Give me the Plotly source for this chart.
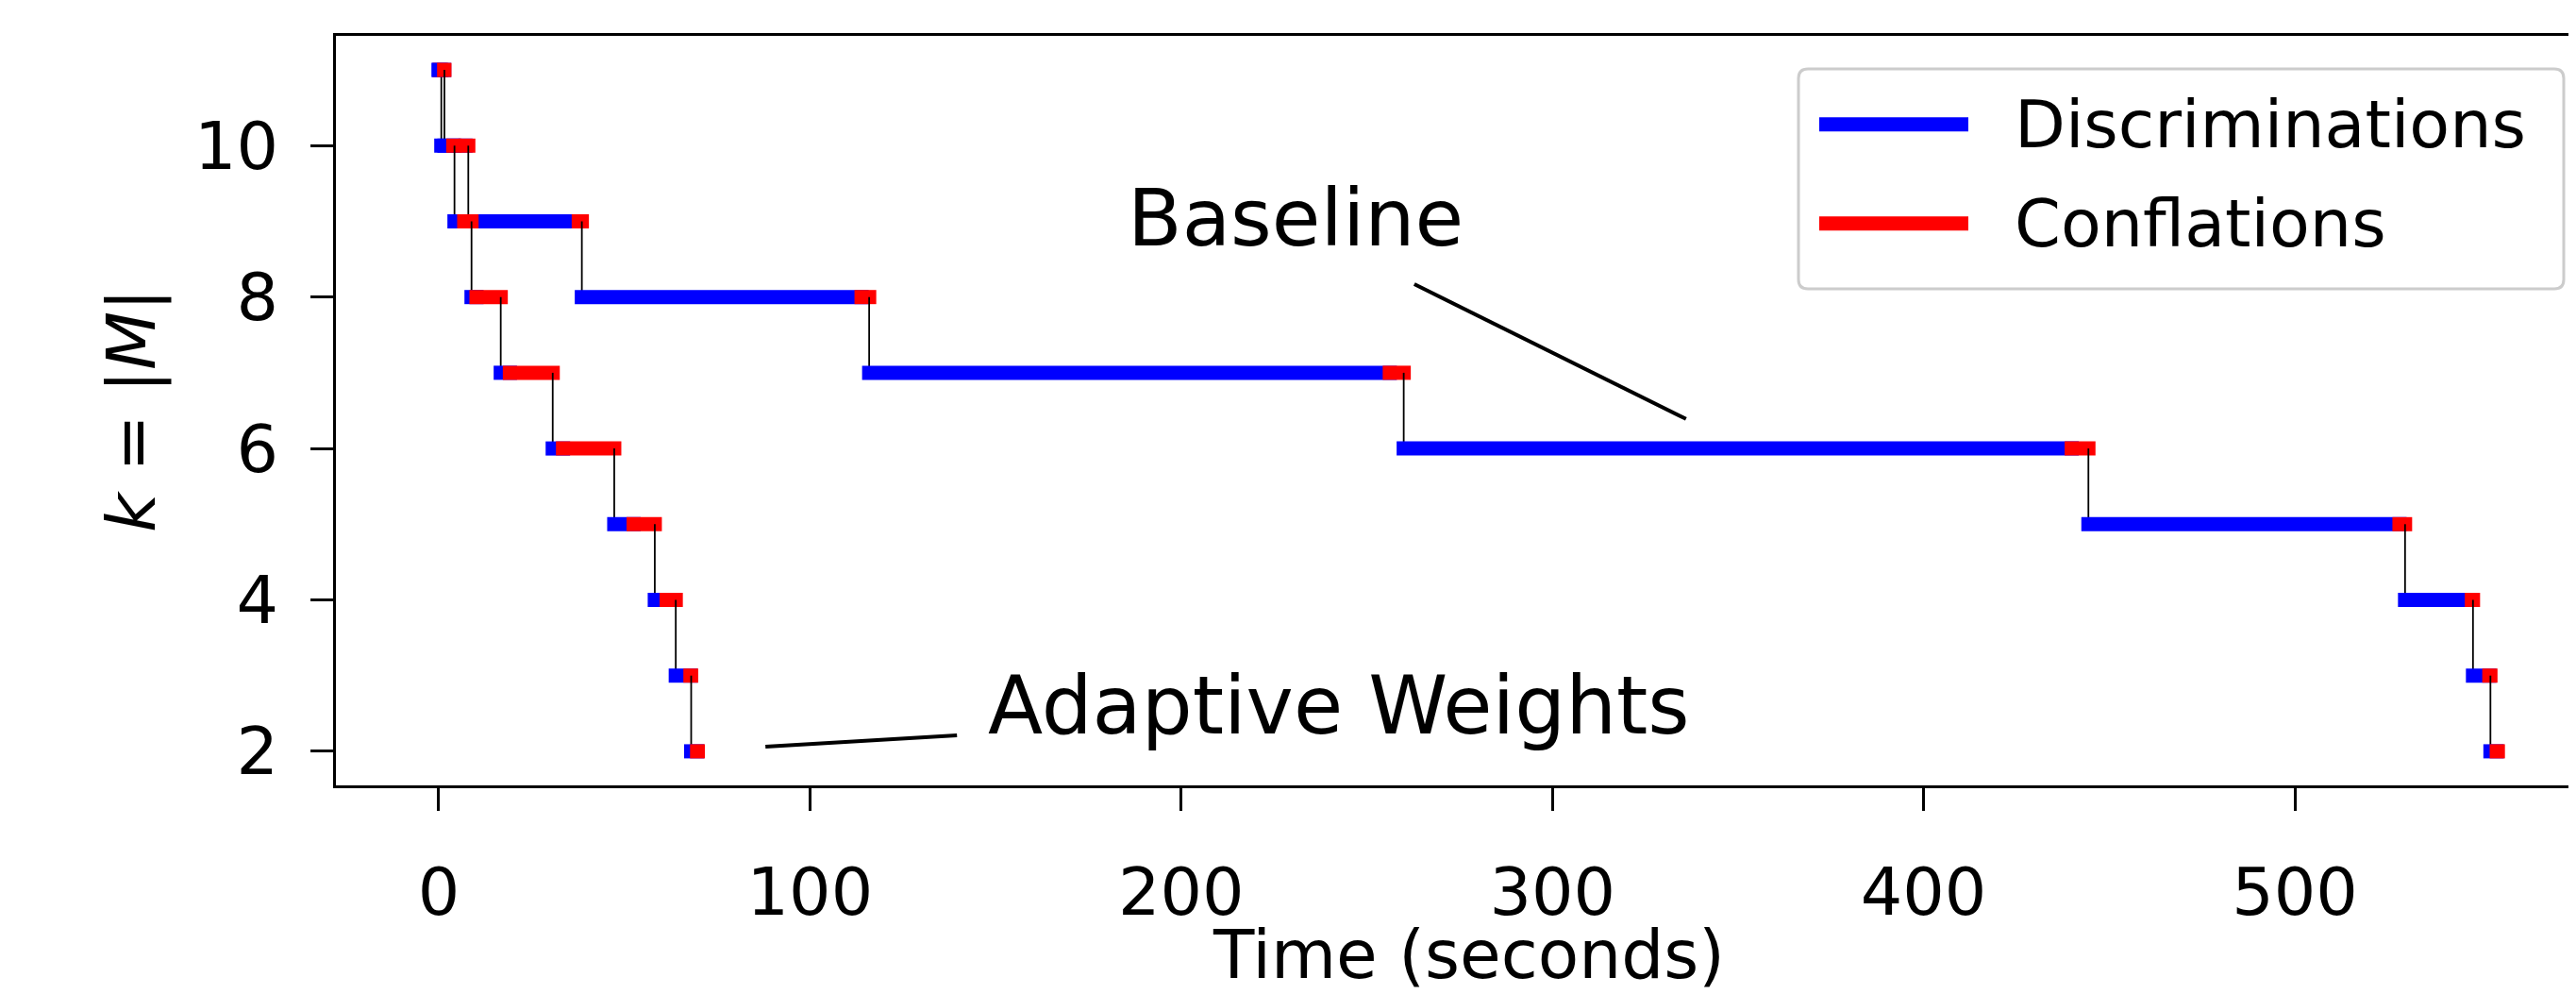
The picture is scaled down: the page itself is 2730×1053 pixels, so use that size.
import plotly.graph_objects as go

# ---------------- data ----------------
levels = [11, 10, 9, 8, 7, 6, 5, 4, 3, 2]

# Baseline run: time at which discriminations switch to conflations, and end time of each level
baseline_switch = [0.30, 7.20, 37.72, 113.90, 256.20, 439.90, 528.20, 547.70, 552.40, 554.40]
baseline_end = [0.69, 7.96, 38.55, 115.95, 259.95, 444.40, 529.70, 548.00, 552.70, 554.70]

# Adaptive Weights run
adaptive_switch = [1.45, 3.91, 6.86, 10.17, 19.17, 33.48, 52.50, 61.40, 67.80, 69.60]
adaptive_end = [1.53, 4.24, 8.83, 16.70, 30.70, 47.28, 58.20, 63.85, 68.00, 69.80]

x_ticks = [0, 100, 200, 300, 400, 500]
y_ticks = [2, 4, 6, 8, 10]

# annotation labels and their pointer lines (data coordinates)
baseline_label = ("Baseline", 230.9, 9.04)
baseline_pointer = [(262.8, 8.17), (336.0, 6.39)]
adaptive_label = ("Adaptive Weights", 242.6, 2.60)
adaptive_pointer = [(88.0, 2.06), (139.6, 2.21)]

# ---------------- layout constants ----------------
PAGE_OFF = 8                      # default body margin of the html page
W, H = 2730 - PAGE_OFF, 1053 - PAGE_OFF
# plot area in page pixels
PLOT_L, PLOT_R, PLOT_T, PLOT_B = 356, 2730, 38, 832
X_RANGE = [-27.7, 575.75]
Y_RANGE = [1.55, 11.45]
BAR_W = 15
FONT = "DejaVu Sans"
BLUE = "#0000ff"
RED = "#ff0000"

px_per_x = (PLOT_R - PLOT_L) / (X_RANGE[1] - X_RANGE[0])
cap = (BAR_W / 2) / px_per_x  # emulate projecting line caps


def paper_x(px):
    return (px - PLOT_L) / (PLOT_R - PLOT_L)


def paper_y(py):
    return (PLOT_B - py) / (PLOT_B - PLOT_T)


fig = go.Figure()


def add_run(switches, ends):
    starts = [0.0] + ends[:-1]
    for i, k in enumerate(levels):
        s, d, e = starts[i], switches[i], ends[i]
        fig.add_trace(go.Scatter(x=[s - cap, d + cap], y=[k, k], mode="lines",
                                 line=dict(color=BLUE, width=BAR_W),
                                 showlegend=False, hoverinfo="skip"))
        fig.add_trace(go.Scatter(x=[d - cap, e + cap], y=[k, k], mode="lines",
                                 line=dict(color=RED, width=BAR_W),
                                 showlegend=False, hoverinfo="skip"))
        if i + 1 < len(levels):
            fig.add_trace(go.Scatter(x=[e, e], y=[k, levels[i + 1]], mode="lines",
                                     line=dict(color="black", width=1.8),
                                     showlegend=False, hoverinfo="skip"))


add_run(baseline_switch, baseline_end)
add_run(adaptive_switch, adaptive_end)

shapes = []
annotations = []

# pointer lines
for (p0, p1) in (baseline_pointer, adaptive_pointer):
    shapes.append(dict(type="line", xref="x", yref="y", x0=p0[0], y0=p0[1],
                       x1=p1[0], y1=p1[1], line=dict(color="black", width=4)))

for (txt, x, y), size in ((baseline_label, 84), (adaptive_label, 85)):
    annotations.append(dict(text=txt, x=x, y=y, xref="x", yref="y", showarrow=False,
                            xanchor="center", yanchor="middle",
                            font=dict(family=FONT, size=size, color="black")))

# legend (drawn manually to match the original's long line samples)
x0, x1 = paper_x(1906), paper_x(2717)
y0, y1 = paper_y(306), paper_y(73)
rx, ry = 10 / (PLOT_R - PLOT_L), 10 / (PLOT_B - PLOT_T)
path = (f"M {x0+rx},{y0} L {x1-rx},{y0} Q {x1},{y0} {x1},{y0+ry} "
        f"L {x1},{y1-ry} Q {x1},{y1} {x1-rx},{y1} L {x0+rx},{y1} "
        f"Q {x0},{y1} {x0},{y1-ry} L {x0},{y0+ry} Q {x0},{y0} {x0+rx},{y0} Z")
shapes.append(dict(type="path", xref="paper", yref="paper", path=path,
                   fillcolor="white", line=dict(color="#cccccc", width=3)))
for name, color, py in (("Discriminations", BLUE, 131.7), ("Conflations", RED, 236.8)):
    shapes.append(dict(type="line", xref="paper", yref="paper",
                       x0=paper_x(1928), x1=paper_x(2086), y0=paper_y(py), y1=paper_y(py),
                       line=dict(color=color, width=BAR_W)))
    annotations.append(dict(text=name, x=paper_x(2133), y=paper_y(py), xref="paper", yref="paper",
                            showarrow=False, xanchor="left", yanchor="middle",
                            font=dict(family=FONT, size=70, color="black")))

# axis titles
annotations.append(dict(text="Time (seconds)", x=(X_RANGE[0] + 582.4) / 2, y=paper_y(1011),
                        xref="x", yref="paper", showarrow=False, xanchor="center", yanchor="middle",
                        font=dict(family=FONT, size=71, color="black")))
annotations.append(dict(text="<i>k</i> = |<i>M</i>|", x=paper_x(139), y=0.5,
                        xref="paper", yref="paper", showarrow=False, textangle=-90,
                        xanchor="center", yanchor="middle",
                        font=dict(family=FONT, size=72, color="black")))

fig.update_layout(
    width=W, height=H,
    margin=dict(l=PLOT_L - PAGE_OFF, r=2730 - PLOT_R, t=PLOT_T - PAGE_OFF, b=1053 - PLOT_B, pad=0),
    paper_bgcolor="white", plot_bgcolor="white",
    showlegend=False,
    shapes=shapes, annotations=annotations,
    font=dict(family=FONT, color="black"),
)
fig.update_xaxes(range=X_RANGE, tickvals=x_ticks, ticks="outside", ticklen=24, tickwidth=3,
                 tickcolor="black", showline=True, linecolor="black", linewidth=3, mirror=True,
                 showgrid=False, zeroline=False, tickfont=dict(family=FONT, size=70, color="black"),
                 ticklabelstandoff=26)
fig.update_yaxes(range=Y_RANGE, tickvals=y_ticks, ticks="outside", ticklen=24, tickwidth=3,
                 tickcolor="black", showline=True, linecolor="black", linewidth=3, mirror=False,
                 showgrid=False, zeroline=False, tickfont=dict(family=FONT, size=70, color="black"),
                 ticklabelstandoff=20)

fig.write_html("out.html")
